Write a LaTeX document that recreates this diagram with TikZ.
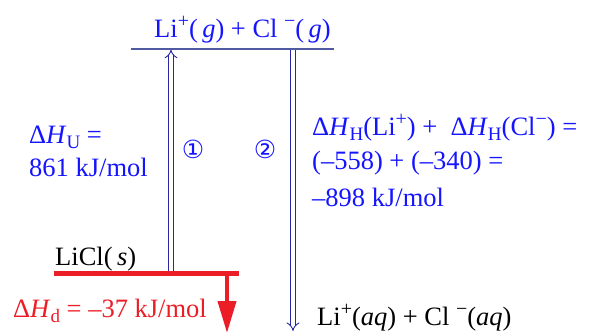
\documentclass[tikz,border=0pt]{standalone}
\usepackage{fontspec}
\setmainfont{Liberation Serif}
\newfontfamily\symfont{DejaVu Sans}
\usetikzlibrary{arrows.meta}
\definecolor{txtblue}{RGB}{20,20,255}
\definecolor{navyc}{RGB}{40,40,160}
\definecolor{lineblue}{RGB}{80,90,160}
\definecolor{myred}{RGB}{235,30,40}
\newcommand{\mysup}[1]{\raisebox{0.34em}{\fontsize{20}{20}\selectfont #1}}
\newcommand{\mysub}[1]{\raisebox{-0.2em}{\fontsize{19}{19}\selectfont #1}}
\tikzset{
  lbl/.style={inner sep=0pt, anchor=base west, font=\fontsize{26.5}{30}\selectfont},
  circnum/.style={inner sep=0pt, text=txtblue, font=\symfont\fontsize{25}{28}\selectfont},
  dblarrow/.style={navyc, line width=0.9pt, double, double distance=3.6pt, -{Implies}},
  level/.style={lineblue, line width=1.2pt},
  redlevel/.style={myred, line width=5pt},
  redarrow/.style={myred, line width=4pt, -{Triangle[width=18pt,length=32pt]}}
}
\begin{document}
\begin{tikzpicture}[x=1pt,y=-1pt]
\useasboundingbox (0,0) rectangle (591,333);
% levels
\coordinate (topL) at (131,49);
\coordinate (topR) at (334,49);
\draw[level] (topL) -- (topR);
\node[lbl, text=txtblue] (gas) at (154,37) {Li\mysup{+}(\,\textit{g}) + Cl \mysup{−}(\,\textit{g})};
\coordinate (botL) at (54,273);
\coordinate (botR) at (239,273);
\draw[redlevel] (botL) -- (botR);
\node[lbl] (licl) at (55,265) {LiCl(\,\textit{s})};
% arrows
\coordinate (upS) at (171,270.5);
\coordinate (upE) at (171,49.6);
\draw[dblarrow] (upS) -- (upE);
\coordinate (dnS) at (293,49.6);
\coordinate (dnE) at (293,331);
\draw[dblarrow] (dnS) -- (dnE);
\coordinate (rdS) at (227,275);
\coordinate (rdE) at (227,333);
\draw[redarrow] (rdS) -- (rdE);
% labels
\node[lbl, text=txtblue] (hu1) at (29,143) {Δ\textit{H}\mysub{U} =};
\node[lbl, text=txtblue] (hu2) at (29,176) {861 kJ/mol};
\node[circnum] (c1) at (193,149) {①};
\node[circnum] (c2) at (265,149) {②};
\node[lbl, text=txtblue] (hh1) at (312,135) {Δ\textit{H}\mysub{H}(Li\mysup{+}) +\ \ Δ\textit{H}\mysub{H}(Cl\mysup{−}) =};
\node[lbl, text=txtblue] (hh2) at (312,169) {(–558) + (–340) =};
\node[lbl, text=txtblue] (hh3) at (312,206) {–898 kJ/mol};
\node[lbl, text=myred] (hd) at (13,317) {Δ\textit{H}\mysub{d} = –37 kJ/mol};
\node[lbl] (aq) at (317,325) {Li\mysup{+}(\textit{aq}) + Cl \mysup{−}(\textit{aq})};
\end{tikzpicture}
\end{document}
